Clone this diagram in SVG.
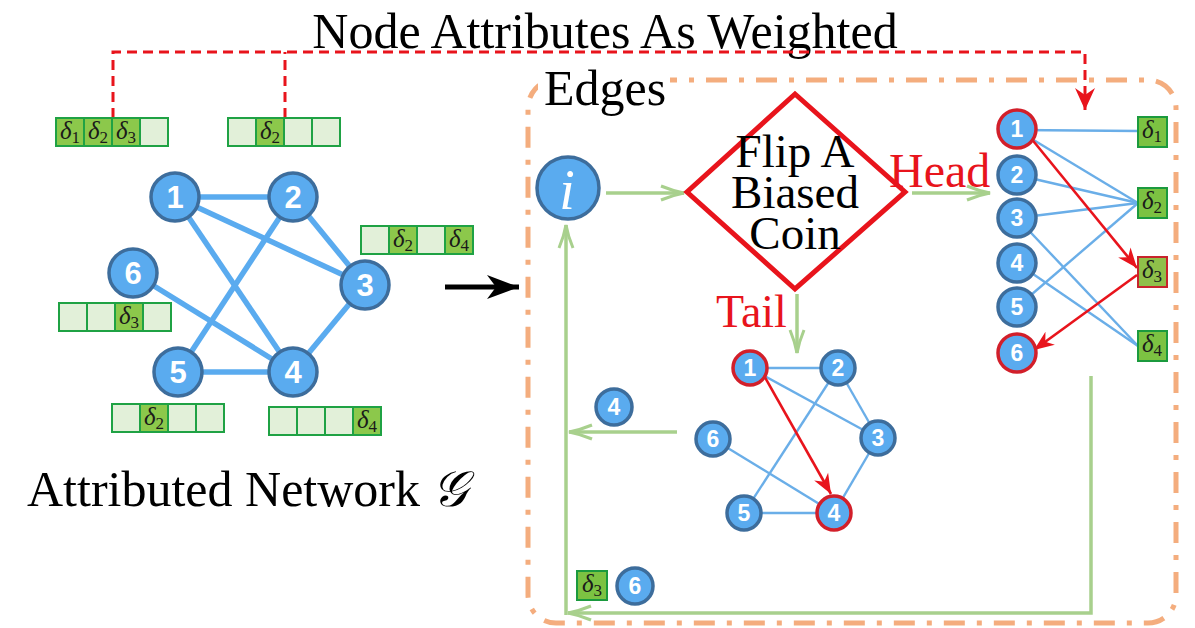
<svg xmlns="http://www.w3.org/2000/svg" width="1195" height="628" viewBox="0 0 1195 628">
  <style>
    .title { font-family: "Liberation Serif", "Times New Roman", serif; font-size: 50px; fill: #000; }
    .coin-t { font-family: "Liberation Serif", "Times New Roman", serif; font-size: 47px; fill: #000; text-anchor: middle; }
    .red-t { font-family: "Liberation Serif", "Times New Roman", serif; fill: #e8141c; }
    .node circle { fill: #5aabef; stroke: #3d6d9c; stroke-width: 3.5; }
    .node.hit circle { stroke: #d21f2a; }
    .node text { font-family: "Liberation Sans", Arial, sans-serif; font-weight: bold; fill: #fff; text-anchor: middle; }
    .node text.var { font-family: "Liberation Serif", "Times New Roman", serif; font-style: italic; font-weight: normal; font-size: 56px; }
    .big text { font-size: 31px; }
    .small text { font-size: 23px; }
    .cell { fill: #e2f0d9; stroke: #1fa244; stroke-width: 2; }
    .cell.on { fill: #8cc84b; }
    .dbox { fill: #7cc242; stroke: #1b9a3e; stroke-width: 2; }
    .dbox.hit { fill: #8fc04a; stroke: #c8242c; }
    .dl { font-family: "Liberation Serif", "Times New Roman", serif; font-style: italic; font-size: 25px; fill: #1a1a1a; text-anchor: middle; }
    .dl tspan { font-style: normal; font-size: 17px; }
    .thick { stroke: #5aabef; stroke-width: 5.5; fill: none; }
    .thin { stroke: #6aaee8; stroke-width: 2.4; fill: none; }
    .flow { stroke: #a8d08d; stroke-width: 3.5; fill: none; }
    .walk { stroke: #e8141c; stroke-width: 2.6; fill: none; }
  </style>
  <defs>
    <marker id="gHead" markerUnits="userSpaceOnUse" markerWidth="28" markerHeight="18" refX="25" refY="9" orient="auto">
      <path d="M2,2 Q14,7 25,9 Q14,11 2,16" fill="none" stroke="#a8d08d" stroke-width="3"/>
    </marker>
    <marker id="rHead" markerUnits="userSpaceOnUse" markerWidth="22" markerHeight="18" refX="20" refY="9" orient="auto">
      <path d="M0,1 L20,9 L0,17 L6,9 z" fill="#e8141c"/>
    </marker>
    <marker id="rDash" markerUnits="userSpaceOnUse" markerWidth="22" markerHeight="24" refX="22" refY="12" orient="auto">
      <path d="M0,2 L22,12 L0,22 L7,12 z" fill="#e8141c"/>
    </marker>
    <marker id="kHead" markerUnits="userSpaceOnUse" markerWidth="32" markerHeight="26" refX="32" refY="13" orient="auto">
      <path d="M0,1 L32,13 L0,25 L9,13 z" fill="#000"/>
    </marker>
  </defs>

  <!-- sampling frame -->
  <rect x="528" y="80" width="648" height="543" rx="28" ry="28" fill="none" stroke="#f4ad7e" stroke-width="5" stroke-dasharray="21 12 5 12"/>

  <!-- caption texts -->
  <text class="title" x="605" y="48" text-anchor="middle" font-size="51">Node Attributes As Weighted</text>
  <rect x="538" y="62" width="132" height="42" fill="#fff"/>
  <text class="title" x="544" y="105">Edges</text>
  <text class="title" x="27" y="506">Attributed Network <tspan font-style="italic">𝒢</tspan></text>

  <g id="connectors">
    <!-- attribute-to-edge dashed link -->
    <path d="M113,118 V52 H1085 V110" fill="none" stroke="#e8141c" stroke-width="3" stroke-dasharray="10 6" marker-end="url(#rDash)"/>
    <path d="M285,118 V52" fill="none" stroke="#e8141c" stroke-width="3" stroke-dasharray="10 6"/>

    <!-- attributed network edges -->
    <g class="thick">
      <line x1="175" y1="197" x2="293" y2="197"/>
      <line x1="175" y1="197" x2="365" y2="285"/>
      <line x1="175" y1="197" x2="293" y2="372"/>
      <line x1="293" y1="197" x2="178" y2="372"/>
      <line x1="293" y1="197" x2="365" y2="285"/>
      <line x1="133" y1="273" x2="293" y2="372"/>
      <line x1="178" y1="372" x2="293" y2="372"/>
      <line x1="365" y1="285" x2="293" y2="372"/>
    </g>

    <!-- transform arrow -->
    <line x1="445" y1="287" x2="519" y2="287" stroke="#000" stroke-width="5" marker-end="url(#kHead)"/>

    <!-- process flow -->
    <line class="flow" x1="606" y1="193" x2="684" y2="193" marker-end="url(#gHead)"/>
    <line class="flow" x1="912" y1="193" x2="990" y2="193" marker-end="url(#gHead)"/>
    <line class="flow" x1="797" y1="294" x2="797" y2="353" marker-end="url(#gHead)"/>
    <line class="flow" x1="677" y1="432" x2="569" y2="432" marker-end="url(#gHead)"/>
    <path class="flow" d="M1091,376 V613 H568" marker-end="url(#gHead)"/>
    <line class="flow" x1="566" y1="615" x2="566" y2="225" marker-end="url(#gHead)"/>

    <!-- tail: topology step -->
    <g class="thin">
      <line x1="750" y1="368" x2="838" y2="368"/>
      <line x1="750" y1="368" x2="878" y2="438"/>
      <line x1="838" y1="368" x2="744" y2="513"/>
      <line x1="838" y1="368" x2="878" y2="438"/>
      <line x1="713" y1="439" x2="834" y2="513"/>
      <line x1="744" y1="513" x2="834" y2="513"/>
      <line x1="878" y1="438" x2="834" y2="513"/>
    </g>
    <line class="walk" x1="763" y1="374" x2="831" y2="494" marker-end="url(#rHead)"/>

    <!-- head: attribute step -->
    <g class="thin">
      <line x1="1017" y1="130" x2="1138" y2="131"/>
      <line x1="1017" y1="130" x2="1138" y2="203"/>
      <line x1="1017" y1="175" x2="1138" y2="203"/>
      <line x1="1017" y1="218" x2="1138" y2="203"/>
      <line x1="1017" y1="307" x2="1138" y2="203"/>
      <line x1="1017" y1="218" x2="1138" y2="346"/>
      <line x1="1017" y1="263" x2="1138" y2="346"/>
    </g>
    <line class="walk" x1="1030" y1="137" x2="1137" y2="268" marker-end="url(#rHead)"/>
    <line class="walk" x1="1137" y1="275" x2="1034" y2="350" marker-end="url(#rHead)"/>
  </g>

  <!-- decision -->
  <g id="coin">
    <polygon points="795,94 905,192 795,289 687,192" fill="#fff" stroke="#e8141c" stroke-width="5"/>
    <text class="coin-t" x="795" y="167">Flip A</text>
    <text class="coin-t" x="795" y="208">Biased</text>
    <text class="coin-t" x="795" y="249">Coin</text>
  </g>
  <text class="red-t" x="889" y="187" font-size="48">Head</text>
  <text class="red-t" x="716" y="327" font-size="46">Tail</text>

  <!-- attributed network nodes -->
  <g id="g1" class="node big"><circle cx="175" cy="197" r="24"/><text x="175" y="208">1</text></g>
  <g id="g2" class="node big"><circle cx="293" cy="197" r="24"/><text x="293" y="208">2</text></g>
  <g id="g3" class="node big"><circle cx="365" cy="285" r="24"/><text x="365" y="296">3</text></g>
  <g id="g4" class="node big"><circle cx="293" cy="372" r="24"/><text x="293" y="383">4</text></g>
  <g id="g5" class="node big"><circle cx="178" cy="372" r="24"/><text x="178" y="383">5</text></g>
  <g id="g6" class="node big"><circle cx="133" cy="273" r="24"/><text x="133" y="284">6</text></g>

  <!-- attribute vectors -->
  <g id="attr1">
    <rect class="cell on" x="56" y="118" width="28" height="28"/>
    <rect class="cell on" x="84" y="118" width="28" height="28"/>
    <rect class="cell on" x="112" y="118" width="28" height="28"/>
    <rect class="cell" x="140" y="118" width="28" height="28"/>
    <text class="dl" x="70" y="139">δ<tspan dy="4">1</tspan></text>
    <text class="dl" x="98" y="139">δ<tspan dy="4">2</tspan></text>
    <text class="dl" x="126" y="139">δ<tspan dy="4">3</tspan></text>
  </g>
  <g id="attr2">
    <rect class="cell" x="228" y="118" width="28" height="28"/>
    <rect class="cell on" x="256" y="118" width="28" height="28"/>
    <rect class="cell" x="284" y="118" width="28" height="28"/>
    <rect class="cell" x="312" y="118" width="28" height="28"/>
    <text class="dl" x="270" y="139">δ<tspan dy="4">2</tspan></text>
  </g>
  <g id="attr3">
    <rect class="cell" x="361" y="226" width="28" height="28"/>
    <rect class="cell on" x="389" y="226" width="28" height="28"/>
    <rect class="cell" x="417" y="226" width="28" height="28"/>
    <rect class="cell on" x="445" y="226" width="28" height="28"/>
    <text class="dl" x="403" y="247">δ<tspan dy="4">2</tspan></text>
    <text class="dl" x="459" y="247">δ<tspan dy="4">4</tspan></text>
  </g>
  <g id="attr6">
    <rect class="cell" x="59" y="303" width="28" height="28"/>
    <rect class="cell" x="87" y="303" width="28" height="28"/>
    <rect class="cell on" x="115" y="303" width="28" height="28"/>
    <rect class="cell" x="143" y="303" width="28" height="28"/>
    <text class="dl" x="129" y="324">δ<tspan dy="4">3</tspan></text>
  </g>
  <g id="attr5">
    <rect class="cell" x="112" y="404" width="28" height="28"/>
    <rect class="cell on" x="140" y="404" width="28" height="28"/>
    <rect class="cell" x="168" y="404" width="28" height="28"/>
    <rect class="cell" x="196" y="404" width="28" height="28"/>
    <text class="dl" x="154" y="425">δ<tspan dy="4">2</tspan></text>
  </g>
  <g id="attr4">
    <rect class="cell" x="269" y="407" width="28" height="28"/>
    <rect class="cell" x="297" y="407" width="28" height="28"/>
    <rect class="cell" x="325" y="407" width="28" height="28"/>
    <rect class="cell on" x="353" y="407" width="28" height="28"/>
    <text class="dl" x="367" y="428">δ<tspan dy="4">4</tspan></text>
  </g>

  <!-- current node -->
  <g id="current" class="node">
    <circle cx="568" cy="188" r="31"/>
    <text class="var" x="567" y="209">i</text>
  </g>

  <!-- tail sub-network -->
  <g id="t1" class="node small hit"><circle cx="750" cy="368" r="17"/><text x="750" y="376">1</text></g>
  <g id="t2" class="node small"><circle cx="838" cy="368" r="17"/><text x="838" y="376">2</text></g>
  <g id="t3" class="node small"><circle cx="878" cy="438" r="17"/><text x="878" y="446">3</text></g>
  <g id="t4" class="node small hit"><circle cx="834" cy="513" r="17"/><text x="834" y="521">4</text></g>
  <g id="t5" class="node small"><circle cx="744" cy="513" r="17"/><text x="744" y="521">5</text></g>
  <g id="t6" class="node small"><circle cx="713" cy="439" r="17"/><text x="713" y="447">6</text></g>

  <!-- step outputs -->
  <g id="out4" class="node small"><circle cx="614" cy="407" r="18"/><text x="614" y="415">4</text></g>
  <g id="out6" class="node small"><circle cx="635" cy="586" r="18"/><text x="635" y="594">6</text></g>
  <g id="outD3">
    <rect class="dbox" x="577" y="571" width="30" height="29"/>
    <text class="dl" x="592" y="592">δ<tspan dy="4">3</tspan></text>
  </g>

  <!-- head bipartite: nodes -->
  <g id="h1" class="node small hit"><circle cx="1017" cy="129" r="19"/><text x="1017" y="137">1</text></g>
  <g id="h2" class="node small"><circle cx="1017" cy="175" r="19"/><text x="1017" y="183">2</text></g>
  <g id="h3" class="node small"><circle cx="1017" cy="218" r="19"/><text x="1017" y="226">3</text></g>
  <g id="h4" class="node small"><circle cx="1017" cy="263" r="19"/><text x="1017" y="271">4</text></g>
  <g id="h5" class="node small"><circle cx="1017" cy="307" r="19"/><text x="1017" y="315">5</text></g>
  <g id="h6" class="node small hit"><circle cx="1017" cy="353" r="19"/><text x="1017" y="361">6</text></g>

  <!-- head bipartite: attribute nodes -->
  <g id="a1"><rect class="dbox" x="1138" y="117" width="29" height="30"/><text class="dl" x="1152" y="138">δ<tspan dy="4">1</tspan></text></g>
  <g id="a2"><rect class="dbox" x="1138" y="188" width="29" height="30"/><text class="dl" x="1152" y="209">δ<tspan dy="4">2</tspan></text></g>
  <g id="a3"><rect class="dbox hit" x="1138" y="257" width="29" height="30"/><text class="dl" x="1152" y="278">δ<tspan dy="4">3</tspan></text></g>
  <g id="a4"><rect class="dbox" x="1138" y="331" width="29" height="30"/><text class="dl" x="1152" y="352">δ<tspan dy="4">4</tspan></text></g>
</svg>
